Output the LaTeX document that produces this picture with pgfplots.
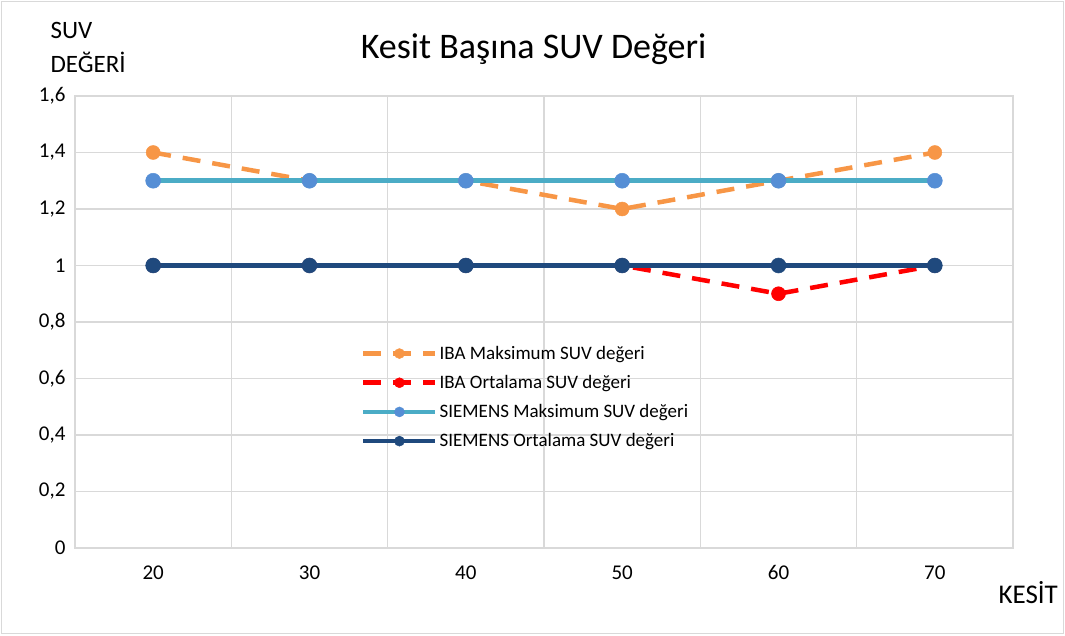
\documentclass[border=0pt]{standalone}
\usepackage{fontspec}
\setmainfont{Carlito}
\usepackage{pgfplots}
\pgfplotsset{compat=1.18}
\definecolor{ibamax}{HTML}{F79646}
\definecolor{ibaort}{HTML}{FF0000}
\definecolor{siemax}{HTML}{4BACC6}
\definecolor{siemaxm}{HTML}{558ED5}
\definecolor{sieort}{HTML}{1F497D}
\definecolor{gridc}{HTML}{D9D9D9}
\begin{document}
\begin{tikzpicture}
\useasboundingbox (-75pt,-87pt) rectangle (990pt,548pt);
\draw[gridc,line width=1pt] (-73pt,-85pt) rectangle (988pt,546pt);
\begin{axis}[
  at={(0pt,0pt)}, anchor=south west,
  scale only axis, width=938pt, height=452pt,
  xmin=15, xmax=75, ymin=0, ymax=1.6,
  xtick={20,30,40,50,60,70},
  minor xtick={15,25,35,45,55,65,75},
  ytick={0,0.2,0.4,0.6,0.8,1,1.2,1.4,1.6},
  yticklabels={0,{0,2},{0,4},{0,6},{0,8},1,{1,2},{1,4},{1,6}},
  xminorgrids=true, xmajorgrids=false, ymajorgrids=true,
  grid style={gridc, line width=1.5pt},
  minor grid style={gridc, line width=1.5pt},
  axis line style={gridc, line width=1pt},
  major tick length=0pt, minor tick length=0pt,
  tick label style={font=\fontsize{21}{25}\selectfont, text=black},
  /pgf/number format/assume math mode=true,
  xticklabel style={yshift=-14pt},
  yticklabel style={xshift=-6pt},
  title={Kesit Başına SUV Değeri},
  title style={font=\fontsize{36}{42}\selectfont, at={(0.489,1)}, anchor=south, yshift=22pt},
  legend style={draw=none, fill=none, at={(283pt,206pt)}, anchor=north west,
    font=\fontsize{19}{22}\selectfont, row sep=10.5pt, cells={anchor=west}},
  legend cell align=left,
  legend image code/.code={
    \draw[#1,mark=none] (0pt,0pt)--(72pt,0pt);
    \draw[#1,solid,mark size=5pt] plot coordinates {(36pt,0pt)};
  },
  clip=false,
]
\addplot[ibamax, line width=4.5pt, dash pattern=on 18pt off 12pt, mark=*, mark size=7pt, mark options={solid, line width=0.5pt, fill=ibamax, draw=ibamax}]
  coordinates {(20,1.4) (30,1.3) (40,1.3) (50,1.2) (60,1.3) (70,1.4)};
\addlegendentry{IBA Maksimum SUV değeri}
\addplot[ibaort, line width=4.5pt, dash pattern=on 18pt off 12pt, mark=*, mark size=7pt, mark options={solid, line width=0.5pt, fill=ibaort, draw=ibaort}]
  coordinates {(20,1) (30,1) (40,1) (50,1) (60,0.9) (70,1)};
\addlegendentry{IBA Ortalama SUV değeri}
\addplot[siemax, line width=4.5pt, mark=*, mark size=7.5pt, mark options={line width=0.5pt, fill=siemaxm, draw=siemaxm}]
  coordinates {(20,1.3) (30,1.3) (40,1.3) (50,1.3) (60,1.3) (70,1.3)};
\addlegendentry{SIEMENS Maksimum SUV değeri}
\addplot[sieort, line width=4.5pt, mark=*, mark size=7.5pt, mark options={line width=0.5pt, fill=sieort, draw=sieort}]
  coordinates {(20,1) (30,1) (40,1) (50,1) (60,1) (70,1)};
\addlegendentry{SIEMENS Ortalama SUV değeri}
\end{axis}
\node[anchor=west, font=\fontsize{25}{30}\selectfont] at (-28pt,518pt) {SUV};
\node[anchor=west, font=\fontsize{25}{30}\selectfont] at (-28pt,486pt) {DEĞERİ};
\node[anchor=west, font=\fontsize{27}{32}\selectfont] at (920pt,-45pt) {KESİT};
\end{tikzpicture}
\end{document}
